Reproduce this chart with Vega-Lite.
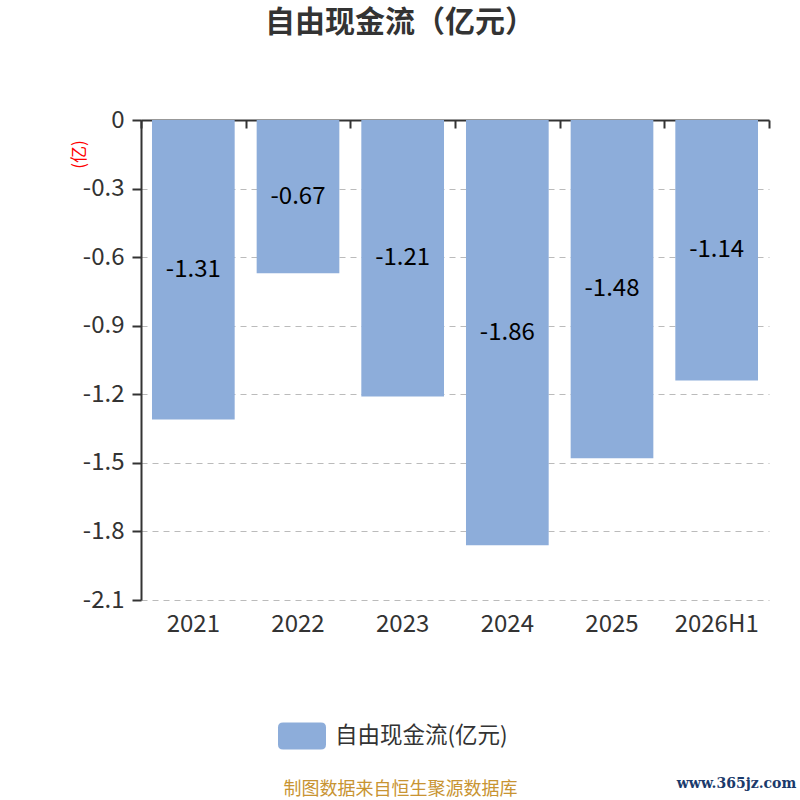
{
  "$schema": "https://vega.github.io/schema/vega-lite/v6.json",
  "width": 628,
  "height": 480,
  "autosize": {"type": "none"},
  "padding": {"left": 141, "top": 120, "right": 31, "bottom": 200},
  "background": "white",
  "config": {
    "font": "Noto Sans CJK SC",
    "view": {"stroke": null}
  },
  "title": {
    "text": "自由现金流（亿元）",
    "fontSize": 30,
    "fontWeight": "bold",
    "color": "#333333",
    "font": "Noto Sans CJK SC",
    "anchor": "middle",
    "baseline": "bottom",
    "offset": 40,
    "dx": -55
  },
  "data": {
    "values": [
      {"year": "2021", "value": -1.31},
      {"year": "2022", "value": -0.67},
      {"year": "2023", "value": -1.21},
      {"year": "2024", "value": -1.86},
      {"year": "2025", "value": -1.48},
      {"year": "2026H1", "value": -1.14}
    ]
  },
  "layer": [
    {
      "mark": {"type": "bar", "width": {"band": 0.79}},
      "encoding": {
        "x": {
          "field": "year",
          "type": "nominal",
          "sort": null,
          "scale": {"paddingInner": 0, "paddingOuter": 0},
          "axis": {
            "orient": "bottom",
            "offset": -480,
            "labels": false,
            "grid": false,
            "domain": true,
            "domainColor": "#333333",
            "domainWidth": 2,
            "ticks": true,
            "tickBand": "extent",
            "tickSize": 8,
            "tickWidth": 2,
            "tickColor": "#333333",
            "title": "www.365jz.com",
            "titleFont": "DejaVu Serif",
            "titleFontSize": 14,
            "titleFontWeight": "bold",
            "titleColor": "#1B3A6B",
            "titleX": 595,
            "titleY": 663,
            "titleAlign": "center",
            "titleBaseline": "middle"
          }
        },
        "y": {
          "field": "value",
          "type": "quantitative",
          "scale": {"domain": [-2.1, 0], "nice": false, "zero": false},
          "axis": {
            "values": [0, -0.3, -0.6, -0.9, -1.2, -1.5, -1.8, -2.1],
            "labelExpr": "datum.value + ''",
            "labelFontSize": 24,
            "labelColor": "#333333",
            "labelPadding": 8,
            "tickSize": 9,
            "tickWidth": 2,
            "tickColor": "#333333",
            "domainColor": "#333333",
            "domainWidth": 2,
            "grid": true,
            "gridColor": "#bbbbbb",
            "gridDash": [6, 5],
            "gridWidth": 1,
            "title": "(亿)",
            "titleColor": "#ff0000",
            "titleFontSize": 17,
            "titleFontWeight": "normal",
            "titleAngle": -90,
            "titleX": -62,
            "titleY": 34,
            "titleAlign": "center",
            "titleBaseline": "middle"
          }
        },
        "color": {
          "datum": "自由现金流(亿元)",
          "type": "nominal",
          "scale": {"range": ["#8DADDA"]},
          "legend": {
            "orient": "none",
            "legendX": 137,
            "legendY": 592,
            "title": null,
            "padding": 0,
            "symbolType": "M-0.79,-0.5625 L0.79,-0.5625 Q1,-0.5625 1,-0.35 L1,0.35 Q1,0.5625 0.79,0.5625 L-0.79,0.5625 Q-1,0.5625 -1,0.35 L-1,-0.35 Q-1,-0.5625 -0.79,-0.5625 Z",
            "symbolSize": 2304,
            "symbolStrokeWidth": 0,
            "symbolOpacity": 1,
            "labelFontSize": 22.5,
            "labelColor": "#333333",
            "labelOffset": 9,
            "labelLimit": 400
          }
        }
      }
    },
    {
      "transform": [{"calculate": "datum.value / 2", "as": "mid"}],
      "mark": {"type": "text", "fontSize": 24, "color": "#000000", "baseline": "middle", "align": "center"},
      "encoding": {
        "x": {
          "field": "year",
          "type": "nominal",
          "sort": null,
          "axis": {
            "orient": "bottom",
            "labels": true,
            "labelAngle": 0,
            "labelFontSize": 24,
            "labelColor": "#333333",
            "labelPadding": 12,
            "domain": false,
            "ticks": false,
            "grid": false,
            "title": "制图数据来自恒生聚源数据库",
            "titleFontSize": 18,
            "titleFontWeight": "normal",
            "titleColor": "#C89432",
            "titleX": 259,
            "titleY": 189,
            "titleAlign": "center",
            "titleBaseline": "middle"
          }
        },
        "y": {"field": "mid", "type": "quantitative", "axis": null},
        "text": {"field": "value", "type": "nominal"}
      }
    }
  ],
  "resolve": {"axis": {"x": "independent", "y": "independent"}}
}
